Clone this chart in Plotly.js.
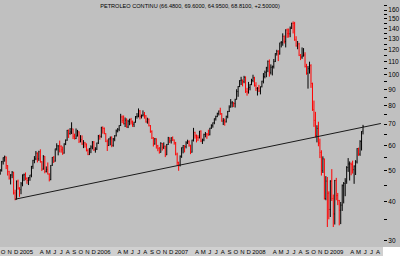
<!DOCTYPE html>
<html><head><meta charset="utf-8">
<script src="https://cdn.plot.ly/plotly-3.0.1.min.js"></script>
<style>html,body{margin:0;padding:0;background:#c0c0c0;}#c{width:400px;height:256px;}</style>
</head><body><div id="c"></div>
<script>
// Weekly bars (week ending Friday)
const weeks = ["2004-10-01","2004-10-08","2004-10-15","2004-10-22","2004-10-29","2004-11-05","2004-11-12","2004-11-19","2004-11-26","2004-12-03","2004-12-10","2004-12-17","2004-12-24","2004-12-31",
"2005-01-07","2005-01-14","2005-01-21","2005-01-28","2005-02-04","2005-02-11","2005-02-18","2005-02-25","2005-03-04","2005-03-11","2005-03-18","2005-03-25","2005-04-01","2005-04-08","2005-04-15","2005-04-22","2005-04-29","2005-05-06","2005-05-13","2005-05-20","2005-05-27","2005-06-03","2005-06-10","2005-06-17","2005-06-24","2005-07-01","2005-07-08","2005-07-15","2005-07-22","2005-07-29","2005-08-05","2005-08-12","2005-08-19","2005-08-26","2005-09-02","2005-09-09","2005-09-16","2005-09-23","2005-09-30","2005-10-07","2005-10-14","2005-10-21","2005-10-28","2005-11-04","2005-11-11","2005-11-18","2005-11-25","2005-12-02","2005-12-09","2005-12-16","2005-12-23","2005-12-30",
"2006-01-06","2006-01-13","2006-01-20","2006-01-27","2006-02-03","2006-02-10","2006-02-17","2006-02-24","2006-03-03","2006-03-10","2006-03-17","2006-03-24","2006-03-31","2006-04-07","2006-04-14","2006-04-21","2006-04-28","2006-05-05","2006-05-12","2006-05-19","2006-05-26","2006-06-02","2006-06-09","2006-06-16","2006-06-23","2006-06-30","2006-07-07","2006-07-14","2006-07-21","2006-07-28","2006-08-04","2006-08-11","2006-08-18","2006-08-25","2006-09-01","2006-09-08","2006-09-15","2006-09-22","2006-09-29","2006-10-06","2006-10-13","2006-10-20","2006-10-27","2006-11-03","2006-11-10","2006-11-17","2006-11-24","2006-12-01","2006-12-08","2006-12-15","2006-12-22","2006-12-29",
"2007-01-05","2007-01-12","2007-01-19","2007-01-26","2007-02-02","2007-02-09","2007-02-16","2007-02-23","2007-03-02","2007-03-09","2007-03-16","2007-03-23","2007-03-30","2007-04-06","2007-04-13","2007-04-20","2007-04-27","2007-05-04","2007-05-11","2007-05-18","2007-05-25","2007-06-01","2007-06-08","2007-06-15","2007-06-22","2007-06-29","2007-07-06","2007-07-13","2007-07-20","2007-07-27","2007-08-03","2007-08-10","2007-08-17","2007-08-24","2007-08-31","2007-09-07","2007-09-14","2007-09-21","2007-09-28","2007-10-05","2007-10-12","2007-10-19","2007-10-26","2007-11-02","2007-11-09","2007-11-16","2007-11-23","2007-11-30","2007-12-07","2007-12-14","2007-12-21","2007-12-28",
"2008-01-04","2008-01-11","2008-01-18","2008-01-25","2008-02-01","2008-02-08","2008-02-15","2008-02-22","2008-02-29","2008-03-07","2008-03-14","2008-03-21","2008-03-28","2008-04-04","2008-04-11","2008-04-18","2008-04-25","2008-05-02","2008-05-09","2008-05-16","2008-05-23","2008-05-30","2008-06-06","2008-06-13","2008-06-20","2008-06-27","2008-07-04","2008-07-11","2008-07-18","2008-07-25","2008-08-01","2008-08-08","2008-08-15","2008-08-22","2008-08-29","2008-09-05","2008-09-12","2008-09-19","2008-09-26","2008-10-03","2008-10-10","2008-10-17","2008-10-24","2008-10-31","2008-11-07","2008-11-14","2008-11-21","2008-11-28","2008-12-05","2008-12-12","2008-12-19","2008-12-26",
"2009-01-02","2009-01-09","2009-01-16","2009-01-23","2009-01-30","2009-02-06","2009-02-13","2009-02-20","2009-02-27","2009-03-06","2009-03-13","2009-03-20","2009-03-27","2009-04-03","2009-04-10","2009-04-17","2009-04-24","2009-05-01","2009-05-08","2009-05-15","2009-05-22","2009-05-29","2009-06-05"];

const openP = [48.9,50.1,53.3,54.9,55.2,51.8,49.6,47.3,48.4,49.4,42.5,40.7,46.3,44.0,
43.5,45.4,48.4,48.5,47.2,46.5,47.5,48.4,51.5,53.8,54.4,56.7,54.4,57.3,53.3,50.5,55.4,49.7,50.4,48.7,46.8,51.9,55.0,53.5,58.5,59.8,59.8,59.6,58.1,56.7,60.6,62.3,66.9,65.4,66.1,67.6,64.1,63.0,64.2,66.2,61.8,62.6,60.6,61.1,60.6,57.8,56.1,58.7,59.3,61.4,58.1,58.4,
61.0,64.2,63.9,68.4,67.8,65.4,61.8,59.9,62.9,63.7,60.0,62.8,64.3,66.6,67.4,69.3,73.7,71.9,70.2,72.0,68.5,71.4,72.3,71.1,69.9,70.9,73.9,74.1,77.0,74.0,74.5,74.8,74.3,71.1,72.5,69.2,66.3,63.3,60.6,62.9,59.8,58.6,57.0,60.8,59.1,59.6,56.0,60.4,63.4,62.0,63.4,62.4,
61.1,56.3,53.0,52.0,55.4,59.0,59.9,59.4,61.1,61.6,60.1,57.1,62.3,65.9,64.3,63.6,63.4,66.5,61.9,62.4,64.9,65.2,65.1,64.8,68.0,69.2,70.7,72.8,73.9,75.6,77.0,75.5,71.5,71.9,71.1,74.0,76.7,79.1,81.6,81.7,81.2,83.7,88.6,91.9,95.9,96.3,95.1,98.2,88.7,88.3,91.3,93.3,
96.0,97.9,92.7,90.6,90.7,89.0,91.8,95.5,98.8,101.8,105.2,110.2,101.8,105.6,106.2,110.1,116.7,118.5,116.3,126.2,126.3,132.2,127.4,138.5,134.9,134.6,140.2,145.3,145.1,128.9,123.3,125.1,115.2,113.8,114.6,115.5,106.2,101.2,104.6,106.9,93.9,77.7,71.9,64.2,67.8,61.0,57.0,49.9,54.4,40.8,46.3,42.4,
37.7,46.3,40.8,36.5,46.5,41.7,40.2,37.5,38.9,44.8,45.5,46.3,51.1,52.4,52.5,52.2,50.3,51.6,53.2,58.6,56.3,61.7,66.48];

const highP = [50.5,53.6,55.0,55.7,55.3,52.0,49.9,48.7,49.8,49.5,43.5,46.5,46.8,44.3,
46.0,48.6,48.9,49.3,47.6,47.6,48.4,51.7,54.0,55.5,57.6,57.0,57.7,58.3,53.5,55.9,55.5,51.5,53.0,49.0,52.0,55.1,55.5,58.6,60.9,60.0,62.1,60.0,59.5,60.9,62.6,67.1,67.3,68.0,70.9,67.7,65.3,67.8,67.1,66.4,64.6,64.5,62.3,61.5,60.8,58.6,58.8,60.0,61.9,61.9,59.2,61.2,
64.7,64.9,68.6,68.8,68.3,65.5,62.6,63.1,63.9,64.0,63.3,64.6,67.3,68.0,69.4,75.4,74.5,74.5,73.4,73.0,72.2,72.8,73.2,71.8,71.2,74.2,75.8,78.4,77.5,75.0,77.3,76.4,74.7,73.3,72.9,69.5,66.9,63.7,63.3,63.1,60.2,59.3,61.4,61.0,61.3,59.9,60.6,63.8,63.5,63.6,64.0,62.6,
61.5,56.9,53.3,55.8,59.1,60.1,60.0,61.8,62.5,62.2,60.2,62.5,68.1,66.2,64.9,64.6,66.6,66.9,63.0,65.3,66.1,65.5,67.2,68.1,69.9,70.8,72.9,74.4,76.0,77.2,78.8,75.8,73.1,72.8,74.4,77.0,80.2,83.9,82.7,82.0,84.1,90.1,92.2,96.2,98.6,96.6,99.3,98.9,91.0,95.0,93.5,97.2,
100.1,98.6,94.8,91.5,93.0,91.9,95.8,101.3,103.1,106.0,111.0,111.8,107.9,107.0,112.2,117.0,119.9,119.6,126.2,127.8,135.1,133.0,139.1,139.9,139.9,142.0,145.9,147.3,146.8,132.3,127.8,126.1,116.3,122.0,121.4,117.8,108.3,106.6,110.0,108.0,94.5,83.0,76.5,69.4,71.2,63.0,57.9,55.4,54.5,48.0,47.7,43.0,
46.6,50.5,42.0,46.7,47.4,42.5,40.4,39.8,45.2,46.0,47.3,51.6,54.7,53.4,53.0,53.7,51.9,53.9,58.8,59.0,62.3,66.5,69.60];

const lowP = [48.5,49.6,52.2,53.3,50.5,48.2,46.8,45.2,47.3,42.0,40.3,40.5,43.5,41.3,
42.1,44.6,46.3,46.6,45.4,45.0,46.4,47.6,50.6,52.7,53.9,53.0,53.6,52.9,49.8,50.3,49.0,49.3,48.6,46.2,46.6,51.7,52.8,53.3,57.8,55.8,57.0,56.9,56.0,56.5,60.1,62.0,63.3,64.8,65.1,62.8,62.6,62.8,64.0,61.0,61.3,60.2,58.8,59.0,57.4,55.9,56.0,56.7,58.3,57.6,56.9,58.0,
60.6,62.5,63.4,65.3,65.0,61.4,57.6,59.7,60.0,59.2,59.4,61.8,64.0,65.9,66.5,69.0,70.5,69.8,68.5,68.2,68.0,69.4,69.8,68.6,68.5,70.7,72.8,73.5,72.4,72.9,73.9,72.8,70.7,70.2,68.8,65.7,62.8,59.5,60.3,58.6,57.5,56.5,56.9,57.8,58.4,55.1,55.9,60.2,61.0,60.8,61.9,60.3,
55.8,51.9,49.9,51.5,54.8,56.6,57.0,58.7,60.6,59.4,56.3,56.9,61.7,63.0,61.3,61.9,63.1,61.4,60.6,61.8,63.6,62.9,64.3,64.5,67.6,68.2,69.9,71.8,73.6,74.5,74.8,71.2,69.5,69.2,70.8,73.0,76.4,78.9,79.0,79.2,78.9,83.6,85.3,91.5,92.9,92.0,94.1,87.7,86.0,87.3,89.4,92.8,
94.8,91.8,89.0,86.1,88.3,86.8,91.3,94.0,97.5,98.3,102.0,98.7,100.3,99.6,104.7,109.8,115.0,110.5,115.8,122.0,123.5,125.5,122.0,130.8,131.0,131.4,139.5,135.0,128.0,122.7,120.4,114.6,111.3,112.3,114.2,105.5,100.1,90.5,100.9,91.0,77.0,68.6,63.5,61.3,59.6,54.7,48.2,49.1,40.5,40.3,33.2,35.1,
35.7,40.1,33.2,33.8,40.3,38.9,33.6,33.9,37.3,39.4,41.5,45.4,49.5,46.5,48.3,48.9,45.4,48.4,52.6,55.6,55.6,57.8,64.95];

const closeP = [50.1,53.3,54.9,55.2,51.8,49.6,47.3,48.4,49.4,42.5,40.7,46.3,44.0,43.5,
45.4,48.4,48.5,47.2,46.5,47.5,48.4,51.5,53.8,54.4,56.7,54.4,57.3,53.3,50.5,55.4,49.7,50.4,48.7,46.8,51.9,55.0,53.5,58.5,59.8,59.8,59.6,58.1,56.7,60.6,62.3,66.9,65.4,66.1,67.6,64.1,63.0,64.2,66.2,61.8,62.6,60.6,61.1,60.6,57.8,56.1,58.7,59.3,61.4,58.1,58.4,61.0,
64.2,63.9,68.4,67.8,65.4,61.8,59.9,62.9,63.7,60.0,62.8,64.3,66.6,67.4,69.3,73.7,71.9,70.2,72.0,68.5,71.4,72.3,71.1,69.9,70.9,73.9,74.1,77.0,74.0,74.5,74.8,74.3,71.1,72.5,69.2,66.3,63.3,60.6,62.9,59.8,58.6,57.0,60.8,59.1,59.6,56.0,60.4,63.4,62.0,63.4,62.4,61.1,
56.3,53.0,52.0,55.4,59.0,59.9,59.4,61.1,61.6,60.1,57.1,62.3,65.9,64.3,63.6,63.4,66.5,61.9,62.4,64.9,65.2,65.1,64.8,68.0,69.2,70.7,72.8,73.9,75.6,77.0,75.5,71.5,71.9,71.1,74.0,76.7,79.1,81.6,81.7,81.2,83.7,88.6,91.9,95.9,96.3,95.1,98.2,88.7,88.3,91.3,93.3,96.0,
97.9,92.7,90.6,90.7,89.0,91.8,95.5,98.8,101.8,105.2,110.2,101.8,105.6,106.2,110.1,116.7,118.5,116.3,126.2,126.3,132.2,127.4,138.5,134.9,134.6,140.2,145.3,145.1,128.9,123.3,125.1,115.2,113.8,114.6,115.5,106.2,101.2,104.6,106.9,93.9,77.7,71.9,64.2,67.8,61.0,57.0,49.9,54.4,40.8,46.3,42.4,37.7,
46.3,40.8,36.5,46.5,41.7,40.2,37.5,38.9,44.8,45.5,46.3,51.1,52.4,52.5,52.2,50.3,51.6,53.2,58.6,56.3,61.7,66.3,68.81];

// Support trend line endpoints
const trendDates = ["2004-12-10","2009-08-28"];
const trendPrices = [40.6,70.3];

// Y axis ticks
const yTickVals = [30,40,50,60,70,80,90,100,110,120,130,140,150,160];
const yMinorVals = [35,45,55,65,75,85,95,105,115,125,135,145,155,165];

// X axis month labels (mid-month); year label spans Jan-Feb
const xTickVals = ["2004-10-15","2004-11-15","2004-12-15","2005-02-01",
"2005-04-15","2005-05-15","2005-06-15","2005-07-15","2005-08-15","2005-09-15","2005-10-15","2005-11-15","2005-12-15","2006-02-01",
"2006-04-15","2006-05-15","2006-06-15","2006-07-15","2006-08-15","2006-09-15","2006-10-15","2006-11-15","2006-12-15","2007-02-01",
"2007-04-15","2007-05-15","2007-06-15","2007-07-15","2007-08-15","2007-09-15","2007-10-15","2007-11-15","2007-12-15","2008-02-01",
"2008-04-15","2008-05-15","2008-06-15","2008-07-15","2008-08-15","2008-09-15","2008-10-15","2008-11-15","2008-12-15","2009-02-01",
"2009-04-15","2009-05-15","2009-06-15","2009-07-15","2009-08-15"];
const xTickText = ["O","N","D","2005",
"A","M","J","J","A","S","O","N","D","2006",
"A","M","J","J","A","S","O","N","D","2007",
"A","M","J","J","A","S","O","N","D","2008",
"A","M","J","J","A","S","O","N","D","2009",
"A","M","J","J","A"];

const titleText = "PETROLEO CONTINU (66.4800, 69.6000, 64.9500, 68.8100, +2.50000)";

const FONT = "Liberation Sans, Arial, sans-serif";

const traces = [
  {
    type: "ohlc", x: weeks, open: openP, high: highP, low: lowP, close: closeP,
    increasing: {line: {color: "#000000", width: 1}},
    decreasing: {line: {color: "#ff0000", width: 1}},
    tickwidth: 0.35, hoverinfo: "skip"
  },
  {
    type: "scatter", mode: "lines", x: trendDates, y: trendPrices,
    line: {color: "#1a1a1a", width: 1}, hoverinfo: "skip"
  }
];

const layout = {
  width: 400, height: 256,
  margin: {l: 0, r: 17, t: 0, b: 9, pad: 0},
  paper_bgcolor: "#c0c0c0", plot_bgcolor: "#c0c0c0",
  showlegend: false,
  font: {family: FONT, size: 7, color: "#000"},
  title: {text: titleText, font: {family: FONT, size: 5.6, color: "#000"}, x: 0.475, xanchor: "center", y: 0.985, yanchor: "top", yref: "container"},
  xaxis: {
    type: "date", range: ["2004-09-30", "2009-09-07"],
    rangeslider: {visible: false},
    showgrid: false, zeroline: false, showline: false,
    tickmode: "array", tickvals: xTickVals, ticktext: xTickText,
    tickangle: 0, ticks: "", tickfont: {family: FONT, size: 6, color: "#000"},
    fixedrange: true
  },
  yaxis: {
    type: "log", side: "right", range: [1.4582, 2.2356],
    showgrid: false, zeroline: false, showline: false,
    tickmode: "array", tickvals: yTickVals, ticktext: yTickVals.map(String),
    ticks: "outside", ticklen: 3, tickcolor: "#000", tickwidth: 1,
    tickfont: {family: FONT, size: 6.5, color: "#000"},
    minor: {tickmode: "array", tickvals: yMinorVals, ticks: "outside", ticklen: 3, tickcolor: "#000", showgrid: false},
    fixedrange: true
  },
  shapes: [
    {type: "rect", xref: "paper", yref: "paper", x0: 0, x1: 1, y0: -9/247, y1: 0, fillcolor: "#d0d0d0", line: {width: 0}, layer: "below"},
    {type: "rect", xref: "paper", yref: "paper", x0: 1, x1: 1.06, y0: -9/247, y1: 0, fillcolor: "#ffffff", line: {width: 0}, layer: "below"}
  ]
};

Plotly.newPlot("c", traces, layout, {displayModeBar: false, staticPlot: true});
</script>
</body></html>
